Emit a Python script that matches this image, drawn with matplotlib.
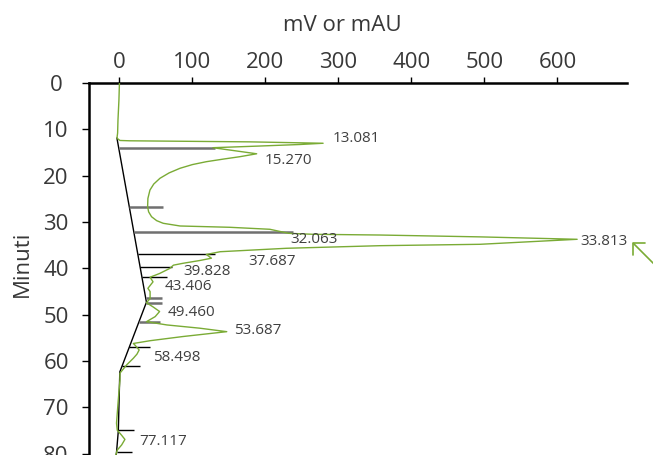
import numpy as np
import matplotlib
matplotlib.use("Agg")
import matplotlib.pyplot as plt

plt.rcParams['font.family'] = ['Open Sans', 'DejaVu Sans']

# ---- data (time in minutes, signal in mV) ----
trace_time = [0.0, 3.7, 8.0, 10.8, 11.9, 12.4, 12.47, 12.7, 13.0,
              13.27, 13.6, 13.96, 14.46, 15.27, 15.9, 16.4, 16.98, 17.6,
              18.4, 19.4, 20.56, 21.8, 23.1, 24.9, 26.7, 27.8, 28.85, 29.7,
              30.27, 30.85, 31.13, 31.56, 32.1, 32.43, 32.64, 32.8, 33.2, 33.72,
              34.8, 35.1, 35.66, 36.4, 37.0, 37.8, 38.3, 38.9, 39.3, 40.0,
              41.1, 41.9, 42.9, 44.3, 45.0, 46.5, 47.4, 48.3, 49.3, 50.4,
              51.5, 52.2, 52.9, 53.65, 54.7, 55.6, 56.2, 56.5, 57.6, 58.5,
              59.4, 60.8, 62.6, 64.1, 68.4, 73.4, 74.9, 76.0, 76.9, 78.1,
              79.2, 80.3]
trace_mv = [0, -0.7, -2, -2.5, -3.4, 0.7, 14, 179, 279,
            247, 192, 128, 151, 188, 165, 143, 119, 100,
            83, 68, 55.5, 47, 41.8, 39, 38.6, 40, 44, 51,
            60, 83, 151, 206, 222, 232, 265, 357, 494, 627,
            494, 357, 229, 138, 119, 126, 110, 87, 74, 69,
            55, 42, 46, 39, 42, 42, 37, 46, 55, 49,
            37, 65, 110, 147, 87, 42, 19, 21, 27, 24,
            19, 10, 0.7, 0.7, -1.6, -4, -3, 3, 7.5, 3,
            -3, -5]

baseline_time = [11.9, 47.3, 62.35, 75.0, 79.7, 80.3]
baseline_mv = [-3.4, 37, 0.5, -1.5, -4, -4.5]

major_drop_time = [14.09, 26.7, 32.1, 46.45, 47.5, 51.5]
major_drop_mv = [131, 60, 238, 58, 58, 55]
minor_drop_time = [37.0, 39.6, 41.9, 56.9, 61.0, 74.9, 79.7]
minor_drop_mv = [131, 71.5, 65, 42, 28, 20, 17]

peak_labels = ["13.081", "15.270", "32.063", "33.813", "37.687", "39.828",
               "43.406", "49.460", "53.687", "58.498", "77.117"]
label_mv = [292, 199, 234, 631, 176, 88, 62, 66, 157, 46, 27]
label_time = [11.9, 16.8, 33.7, 34.1, 38.6, 40.6, 44.0, 49.5, 53.5, 59.2, 77.3]

x_ticks = [0, 100, 200, 300, 400, 500, 600]
y_ticks = [0, 10, 20, 30, 40, 50, 60, 70, 80]

green = '#7aab35'
txt = '#383838'

fig = plt.figure(figsize=(6.53, 4.55), dpi=100)
W, H = 653, 455
ax = fig.add_axes([88.7 / W, 0, (626.8 - 88.7) / W, (455 - 83) / H])
ax.set_xlim(-42.1, 695)
ax.set_ylim(80.26, 0)

# baseline
ax.plot(baseline_mv, baseline_time, color='black', lw=1.0, zorder=2)
# drop lines
for t, v in zip(major_drop_time, major_drop_mv):
    b = np.interp(t, baseline_time, baseline_mv)
    ax.plot([b, v], [t, t], color='#707070', lw=1.8, zorder=2, solid_capstyle='butt')
for t, v in zip(minor_drop_time, minor_drop_mv):
    b = np.interp(t, baseline_time, baseline_mv)
    ax.plot([b, v], [t, t], color='black', lw=1.0, zorder=2, solid_capstyle='butt')
# trace
ax.plot(trace_mv, trace_time, color=green, lw=1.0, zorder=3,
        solid_joinstyle='round')

for s, x, y in zip(peak_labels, label_mv, label_time):
    ax.text(x, y, s, fontsize=11, color='#404040', ha='left', va='center', zorder=4)

for side in ['right', 'bottom']:
    ax.spines[side].set_visible(False)
for side in ['top', 'left']:
    ax.spines[side].set_linewidth(1.8)
    ax.spines[side].set_color('black')

ax.xaxis.tick_top()
ax.xaxis.set_label_position('top')
ax.set_xticks(x_ticks)
ax.set_yticks(y_ticks)
ax.tick_params(axis='x', length=4.5, width=1, pad=3, labelsize=16, labelcolor=txt)
ax.tick_params(axis='y', length=5, width=1, pad=18.5, labelsize=16, labelcolor=txt)
for lbl in ax.get_yticklabels():
    lbl.set_horizontalalignment('center')

ax.set_xlabel('mV or mAU', fontsize=16, color=txt)
ax.xaxis.set_label_coords((342.7 - 88.7) / 538.1, 1 + (83 - 26) / 372)
ax.xaxis.label.set_verticalalignment('center')
ax.set_ylabel('Minuti', fontsize=16, color=txt)
ax.yaxis.set_label_coords((22 - 88.7) / 538.1, 1 - (264 - 83) / 372)
ax.yaxis.label.set_verticalalignment('center')

# arrow marker at right edge
ax.annotate('', xy=(630.7, H - 240.7), xycoords='figure pixels',
            xytext=(672, H - 282), textcoords='figure pixels',
            arrowprops=dict(arrowstyle='->,head_length=0.6,head_width=0.6',
                            color=green, lw=1.2),
            annotation_clip=False)

fig.savefig('out.png', dpi=100)
